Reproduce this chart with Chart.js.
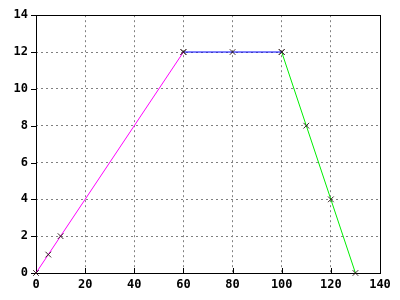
<!DOCTYPE html>
<html>
<head>
<meta charset="utf-8">
<script src="https://cdn.jsdelivr.net/npm/chart.js@4/dist/chart.umd.min.js"></script>
<style>
  html, body { margin: 0; padding: 0; background: #fff; }
  #wrap { width: 400px; height: 300px; }
</style>
</head>
<body>
<div id="wrap"><canvas id="c" width="400" height="300"></canvas></div>
<script>
// series data
const rampUpX = [0, 5, 10, 60];
const rampUpY = [0, 1, 2, 12];
const plateauX = [60, 80, 100];
const plateauY = [12, 12, 12];
const rampDownX = [100, 110, 120, 130];
const rampDownY = [12, 8, 4, 0];

const xTicks = [0, 20, 40, 60, 80, 100, 120, 140];
const yTicks = [0, 2, 4, 6, 8, 10, 12, 14];

const pts = (xs, ys) => xs.map((x, i) => ({ x, y: ys[i] }));

const FONT = { family: '"DejaVu Sans Mono", monospace', size: 12, weight: 'bold' };

// frame + tick marks (y ticks outward, x ticks inward)
const frameTicks = {
  id: 'frameTicks',
  beforeDatasetsDraw (chart) {
    const { ctx, chartArea: a, scales } = chart;
    ctx.save();
    ctx.strokeStyle = '#000';
    ctx.lineWidth = 1;
    ctx.strokeRect(Math.round(a.left) + 0.5, Math.round(a.top) + 0.5,
                   Math.round(a.right - a.left), Math.round(a.bottom - a.top));
    ctx.beginPath();
    yTicks.forEach(v => {
      const y = Math.round(scales.y.getPixelForValue(v)) + 0.5;
      ctx.moveTo(a.left - 5, y);
      ctx.lineTo(a.left, y);
    });
    xTicks.forEach(v => {
      const x = Math.round(scales.x.getPixelForValue(v)) + 0.5;
      ctx.moveTo(x, a.bottom);
      ctx.lineTo(x, a.bottom - 5);
    });
    ctx.stroke();
    ctx.restore();
  }
};

const marker = {
  pointStyle: 'crossRot',
  pointRadius: 4,
  pointBorderColor: 'rgba(40,20,20,0.9)',
  pointBorderWidth: 1,
  borderWidth: 1,
  tension: 0,
  fill: false,
  clip: false
};

const gridColor = edge => ctx =>
  (ctx.tick.value === 0 || ctx.tick.value === edge) ? 'rgba(0,0,0,0)' : '#808080';

new Chart(document.getElementById('c'), {
  type: 'line',
  data: {
    datasets: [
      { data: pts(rampUpX, rampUpY), borderColor: '#ff00ff', ...marker },
      { data: pts(plateauX, plateauY), borderColor: '#0000ff', ...marker },
      { data: pts(rampDownX, rampDownY), borderColor: '#00ee00', ...marker }
    ]
  },
  options: {
    responsive: false,
    animation: false,
    layout: { padding: { top: 13, right: 20, left: 0, bottom: 0 } },
    plugins: { legend: { display: false }, tooltip: { enabled: false } },
    scales: {
      x: {
        type: 'linear',
        min: 0, max: 140,
        afterFit (s) { s.height = 27; },
        afterBuildTicks (s) { s.ticks = xTicks.map(v => ({ value: v })); },
        border: { display: false, dash: [2, 3] },
        grid: { drawTicks: false, color: gridColor(140), lineWidth: 1 },
        ticks: { color: '#000', font: FONT, padding: 5, maxRotation: 0 }
      },
      y: {
        min: 0, max: 14,
        afterFit (s) { s.width = 36; },
        afterBuildTicks (s) { s.ticks = yTicks.map(v => ({ value: v })); },
        border: { display: false, dash: [2, 3] },
        grid: { drawTicks: false, color: gridColor(14), lineWidth: 1 },
        ticks: { color: '#000', font: FONT, padding: 8 }
      }
    }
  },
  plugins: [frameTicks]
});
</script>
</body>
</html>
